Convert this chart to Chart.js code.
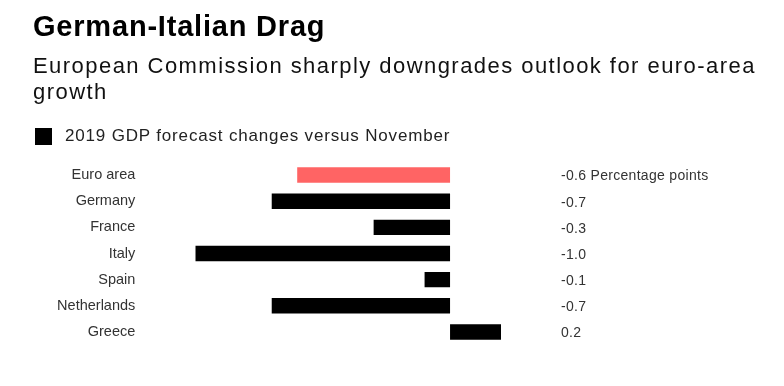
<!DOCTYPE html>
<html>
<head>
<meta charset="utf-8">
<script src="https://cdn.jsdelivr.net/npm/chart.js@4"></script>
<style>
  body { margin: 0; width: 784px; height: 386px; background: #fff; position: relative; overflow: hidden;
         font-family: "Liberation Sans", Arial, sans-serif; }
  canvas { position: absolute; left: 0; top: 0; }
  .txt { position: absolute; left: 33px; white-space: nowrap; color: #000; }
  #title { top: 11.5px; font-size: 29px; line-height: 29px; font-weight: bold; letter-spacing: 0.8px; }
  #subtitle { top: 53.4px; font-size: 22px; line-height: 26px; letter-spacing: 1.45px; color: #111; }
  #legend { top: 127.3px; left: 35px; font-size: 17px; line-height: 17px; letter-spacing: 0.83px; color: #222; }
  #legend span.box { display: inline-block; width: 17px; height: 17px; background: #000; vertical-align: top; margin-right: 13px; margin-top: 1px; }
</style>
</head>
<body>
<canvas id="chart" width="784" height="386"></canvas>
<div class="txt" id="title">German-Italian Drag</div>
<div class="txt" id="subtitle">European Commission sharply downgrades outlook for euro-area<br>growth</div>
<div class="txt" id="legend"><span class="box"></span>2019 GDP forecast changes versus November</div>
<script>
// Veriler
const countries = ['Euro area', 'Germany', 'France', 'Italy', 'Spain', 'Netherlands', 'Greece'];
const changes = [-0.6, -0.7, -0.3, -1.0, -0.1, -0.7, 0.2];
const unitLabel = 'Percentage points';
const barColors = ['#ff6464', '#000', '#000', '#000', '#000', '#000', '#000'];

// Sağdaki değer etiketleri
const valueLabels = {
    id: 'valueLabels',
    afterDatasetsDraw(chart) {
        const ctx = chart.ctx;
        const meta = chart.getDatasetMeta(0);
        const x = chart.chartArea.right + 60;
        ctx.save();
        ctx.font = '14px "Liberation Sans", Arial, sans-serif';
        ctx.letterSpacing = '0.3px';
        ctx.fillStyle = '#333';
        ctx.textAlign = 'left';
        ctx.textBaseline = 'middle';
        meta.data.forEach((bar, i) => {
            let txt = changes[i].toFixed(1);
            if (i === 0) txt += ' ' + unitLabel;
            ctx.fillText(txt, x, bar.y + 1.5);
        });
        ctx.restore();
    }
};

new Chart(document.getElementById('chart').getContext('2d'), {
    type: 'bar',
    data: {
        labels: countries,
        datasets: [{
            data: changes,
            backgroundColor: barColors,
            borderWidth: 0,
            categoryPercentage: 1,
            barPercentage: 0.59
        }]
    },
    options: {
        indexAxis: 'y',
        responsive: false,
        animation: false,
        layout: { padding: { top: 162, bottom: 41, left: 0, right: 283 } },
        plugins: { legend: { display: false }, tooltip: { enabled: false } },
        scales: {
            x: { display: false, min: -1.0, max: 0.2 },
            y: {
                grid: { display: false, drawTicks: false },
                border: { display: false },
                ticks: {
                    padding: 60,
                    color: '#333',
                    font: { family: '"Liberation Sans", Arial, sans-serif', size: 14.5 }
                },
                afterFit: (scale) => {
                    scale.width = 195.3;
                    // tick padding'in grafik alanını küçültmesini engelle
                    scale.paddingTop = 0;
                    scale.paddingBottom = 0;
                }
            }
        }
    },
    plugins: [valueLabels]
});
</script>
</body>
</html>
